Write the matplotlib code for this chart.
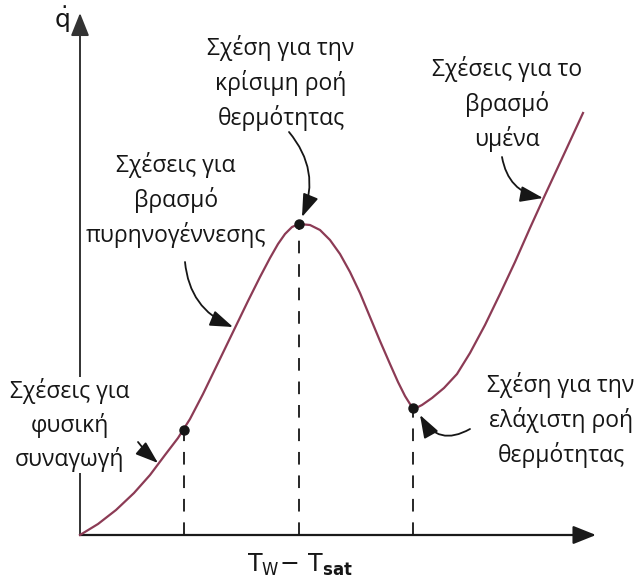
import matplotlib
matplotlib.use('Agg')
import matplotlib.pyplot as plt

plt.rcParams['font.family'] = ['Open Sans', 'DejaVu Sans']
plt.rcParams['mathtext.fontset'] = 'dejavusans'

# -- Boiling curve: wall superheat (x) against heat flux (y), arbitrary units
curve_x = [0, 18, 36, 54, 70, 85, 98, 110, 123, 138, 153, 168, 180, 190, 198,
           205, 212, 219, 230, 240, 250, 260, 270, 280, 290, 300, 310, 318,
           325, 330, 333, 336, 342, 352, 364, 377, 390, 405, 420, 435, 450,
           465, 485, 503]
curve_y = [0, 11, 25, 42, 60, 80, 97, 116, 141, 172, 203, 234, 258, 277, 291,
           301, 308, 311, 310, 305, 295, 281, 263, 242, 218, 194, 171, 153,
           139, 131, 128, 127, 130, 137, 147, 161, 182, 210, 241, 273, 307,
           340, 383, 422]

# -- Marked points: onset of nucleate boiling, critical flux, minimum flux
marker_x = [104, 219, 333]
marker_y = [105, 311, 127]

# -- Annotation texts with their positions, arrow tails and arrow heads
labels = [
    'Σχέσεις για\nφυσική\nσυναγωγή',
    'Σχέσεις για\nβρασμό\nπυρηνογέννεσης',
    'Σχέση για την\nκρίσιμη ροή\nθερμότητας',
    'Σχέσεις για το\nβρασμό\nυμένα',
    'Σχέση για την\nελάχιστη ροή\nθερμότητας',
]
label_pos = [(-10, 110), (96, 335), (201, 452), (427, 431), (481, 115)]
arrow_tail = [(58, 93), (105, 273), (209, 403), (422, 378), (390, 106)]
arrow_head = [(78, 72), (153, 208), (222, 318), (463, 337), (340, 120)]
arrow_rad = [0.05, 0.3, -0.3, 0.35, -0.5]

fig = plt.figure(figsize=(6.4, 5.85), dpi=100)
ax = fig.add_axes([0, 0, 1, 1])
ax.set_xlim(-80, 560)
ax.set_ylim(-50, 535)
ax.axis('off')

ink = '#161616'

# -- Axes drawn as arrows from the origin
ax.annotate('', xy=(516, 0), xytext=(0, 0),
            arrowprops=dict(arrowstyle='-|>,head_length=1.0,head_width=0.4',
                            mutation_scale=14, color='#1a1a1a', lw=1.6,
                            shrinkA=0, shrinkB=0), zorder=2)
ax.annotate('', xy=(0, 522), xytext=(0, 0),
            arrowprops=dict(arrowstyle='-|>,head_length=1.0,head_width=0.4',
                            mutation_scale=14, color='#333333', lw=1.4,
                            shrinkA=0, shrinkB=0), zorder=2)

# -- Boiling curve
ax.plot(curve_x, curve_y, color='#8c3b55', lw=1.6, zorder=3,
        solid_joinstyle='round')

# -- Dashed drop lines and markers
for mx, my in zip(marker_x, marker_y):
    ax.plot([mx, mx], [0, my], color=ink, lw=1.3, ls=(0, (7, 6)), zorder=2)
ax.plot(marker_x, marker_y, 'o', color=ink, ms=6.5, zorder=4)

# -- Annotation texts with curved arrows
for i, (txt, pos) in enumerate(zip(labels, label_pos)):
    bbox = None
    if i == 0:
        bbox = dict(facecolor='white', edgecolor='none', pad=1)
    ax.text(pos[0], pos[1], txt, ha='center', va='center', fontsize=16.5,
            color=ink, linespacing=1.46, bbox=bbox, zorder=5)
    ax.annotate('', xy=arrow_head[i], xytext=arrow_tail[i],
                arrowprops=dict(arrowstyle='-|>,head_length=1.0,head_width=0.35',
                                mutation_scale=14, color=ink, lw=1.3,
                                shrinkA=0, shrinkB=0,
                                connectionstyle='arc3,rad=%s' % arrow_rad[i]),
                zorder=5)

# -- Axis labels
ax.text(-18, 515, r'$\dot{\mathrm{q}}$', ha='center', va='center',
        fontsize=18, color=ink)
ax.text(220, -30, r'$\mathrm{T_W\!-\,T_{\mathbf{sat}}}$', ha='center',
        va='center', fontsize=17, color=ink)

fig.savefig('out.png', dpi=100)
